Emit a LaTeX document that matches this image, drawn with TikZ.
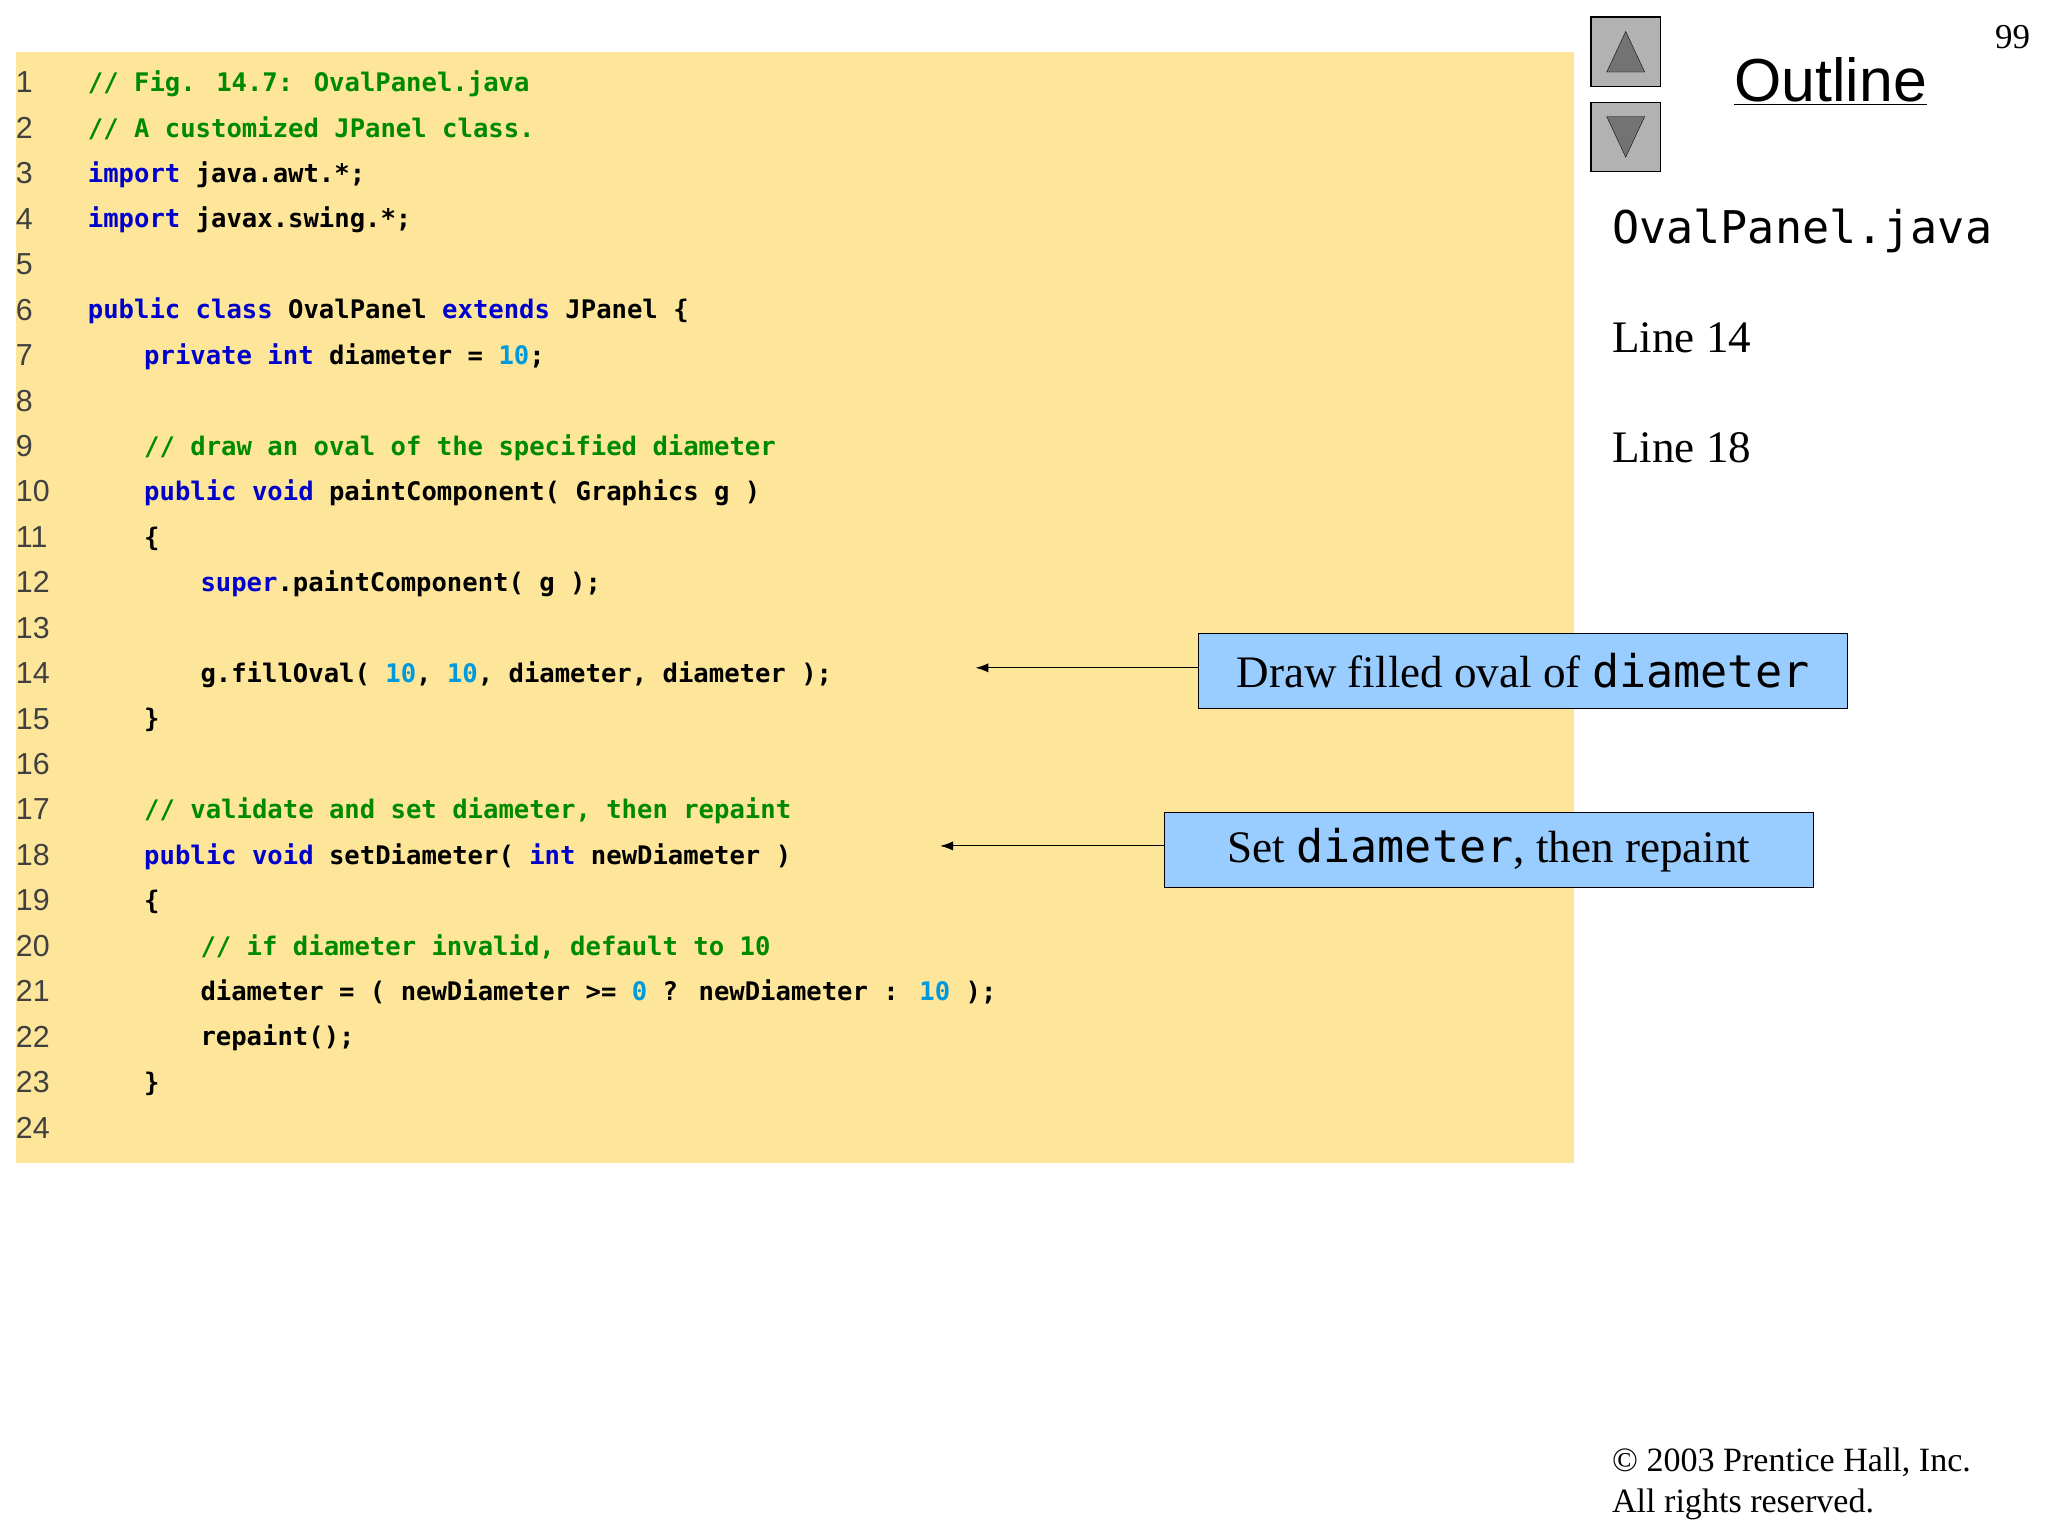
\documentclass[tikz,border=0pt]{standalone}
\usepackage{fontspec}
\usetikzlibrary{arrows.meta}
\setmainfont{Liberation Serif}
\setsansfont{Liberation Sans}
\setmonofont{DejaVu Sans Mono}
\newfontfamily\codefont{DejaVu Sans Mono Bold}
\definecolor{bgy}{HTML}{FDE69A}
\definecolor{kw}{HTML}{0000CC}
\definecolor{cm}{HTML}{008A00}
\definecolor{nm}{HTML}{0099DD}
\definecolor{lb}{HTML}{99CCFF}
\newcommand\K[1]{\textcolor{kw}{#1}}
\newcommand\C[1]{\textcolor{cm}{#1}}
\newcommand\N[1]{\textcolor{nm}{#1}}
\tikzset{code/.style={anchor=base west,inner sep=0,font=\codefont\fontsize{27.8}{32}\selectfont},
lnum/.style={anchor=base west,inner sep=0,text=black!75,font=\sffamily\fontsize{33}{36}\selectfont},
callout/.style={draw=black,fill=lb,line width=1pt,minimum width=496*1.42pt,minimum height=57*1.42pt,inner sep=0,font=\fontsize{49}{54}\selectfont},
btn/.style={draw=black,fill=black!30,line width=1.5pt,minimum size=53*1.42pt},
arr/.style={-{Latex[length=14pt,width=10pt]},line width=1.2pt}}
\begin{document}
\begin{tikzpicture}[x=0.05cm,y=-0.05cm]
\useasboundingbox (0,0) rectangle (1564,1173);
\fill[bgy] (12,40) rectangle (1202,888);
\foreach \i in {1,...,24} {\node[lnum] at (12,{34.7*(\i-1)+71}) {\i};}
\def\ln#1#2#3{\node[code] at ({67+10.75*#2},{34.7*(#1-1)+70}) {#3};}
\ln{1}{0}{\C{// Fig. 14.7: OvalPanel.java}}
\ln{2}{0}{\C{// A customized JPanel class.}}
\ln{3}{0}{\K{import} java.awt.*;}
\ln{4}{0}{\K{import} javax.swing.*;}
\ln{6}{0}{\K{public class} OvalPanel \K{extends} JPanel \{}
\ln{7}{4}{\K{private int} diameter = \N{10};}
\ln{9}{4}{\C{// draw an oval of the specified diameter}}
\ln{10}{4}{\K{public void} paintComponent( Graphics g )}
\ln{11}{4}{\{}
\ln{12}{8}{\K{super}.paintComponent( g );}
\node[code] (l14) at ({67+10.75*8},{34.7*13+70}) {g.fillOval( \N{10}, \N{10}, diameter, diameter );};
\ln{15}{4}{\}}
\ln{17}{4}{\C{// validate and set diameter, then repaint}}
\node[code] (l18) at ({67+10.75*4},{34.7*17+70}) {\K{public void} setDiameter( \K{int} newDiameter )};
\ln{19}{4}{\{}
\ln{20}{8}{\C{// if diameter invalid, default to 10}}
\ln{21}{8}{diameter = ( newDiameter >= \N{0} ? newDiameter : \N{10} );}
\ln{22}{8}{repaint();}
\ln{23}{4}{\}}
% callouts
\node[callout] (c1) at (1163,512.5) {Draw filled oval of {\ttfamily diameter}};
\node[callout] (c2) at (1137,649) {Set {\ttfamily diameter}, then repaint};
\coordinate (e1) at (745,510);
\coordinate (e2) at (718,646);
\draw[arr] (c1.west|-e1) -- (e1);
\draw[arr] (c2.west|-e2) -- (e2);
% right panel
\node[btn] (up) at (1241.5,39.5) {};
\node[btn] (dn) at (1241.5,104.5) {};
\fill[black!55,draw=black] (1227,55) -- (1256,55) -- (1241.5,24) -- cycle;
\fill[black!55,draw=black] (1227,89) -- (1256,89) -- (1241.5,120) -- cycle;
\node[font=\sffamily\fontsize{66}{70}\selectfont,inner sep=0] (ol) at (1398,62) {\underline{Outline}};
\node[font=\fontsize{38}{40}\selectfont,inner sep=0] (pg) at (1537,28) {99};
\node[anchor=base west,inner sep=0,font=\ttfamily\fontsize{49}{54}\selectfont] (fn) at (1231,186) {OvalPanel.java};
\node[anchor=base west,inner sep=0,font=\fontsize{49}{54}\selectfont] (t14) at (1231,269) {Line 14};
\node[anchor=base west,inner sep=0,font=\fontsize{49}{54}\selectfont] (t18) at (1231,353) {Line 18};
\node[anchor=base west,inner sep=0,font=\fontsize{37}{40}\selectfont] (cp1) at (1231,1124) {© 2003 Prentice Hall, Inc.};
\node[anchor=base west,inner sep=0,font=\fontsize{37}{40}\selectfont] (cp2) at (1231,1155) {All rights reserved.};
\end{tikzpicture}
\end{document}
